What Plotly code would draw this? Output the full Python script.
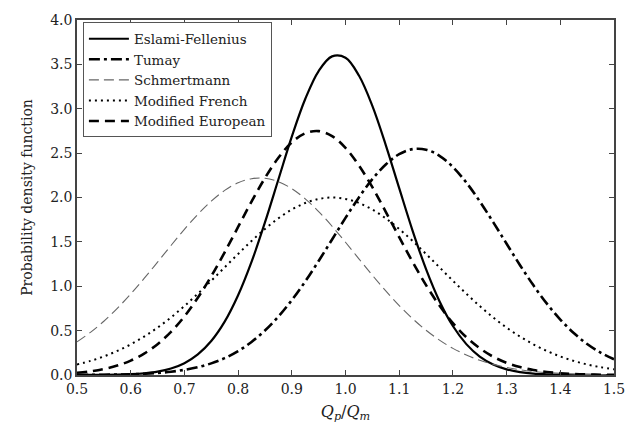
import plotly.graph_objects as go

# x grid (Qp/Qm), step 0.025
x_vals = [0.500, 0.525, 0.550, 0.575, 0.600, 0.625, 0.650, 0.675, 0.700, 0.725,
          0.750, 0.775, 0.800, 0.825, 0.850, 0.875, 0.900, 0.925, 0.950, 0.975,
          1.000, 1.025, 1.050, 1.075, 1.100, 1.125, 1.150, 1.175, 1.200, 1.225,
          1.250, 1.275, 1.300, 1.325, 1.350, 1.375, 1.400, 1.425, 1.450, 1.475, 1.500]

eslami_fellenius = [0.000, 0.001, 0.002, 0.004, 0.009, 0.019, 0.038, 0.073, 0.133, 0.232,
                    0.383, 0.601, 0.898, 1.274, 1.719, 2.203, 2.686, 3.110, 3.425, 3.590,
                    3.575, 3.374, 3.032, 2.591, 2.105, 1.625, 1.193, 0.832, 0.552, 0.348,
                    0.208, 0.119, 0.064, 0.033, 0.016, 0.008, 0.003, 0.002, 0.001, 0.000, 0.000]
tumay = [0.001, 0.002, 0.003, 0.005, 0.008, 0.014, 0.023, 0.037, 0.058, 0.088,
         0.131, 0.190, 0.269, 0.372, 0.501, 0.658, 0.844, 1.054, 1.285, 1.527,
         1.770, 2.001, 2.207, 2.372, 2.488, 2.545, 2.539, 2.470, 2.344, 2.168,
         1.957, 1.722, 1.479, 1.237, 1.010, 0.804, 0.625, 0.473, 0.349, 0.252, 0.177]
schmertmann = [0.373, 0.480, 0.606, 0.751, 0.913, 1.088, 1.272, 1.459, 1.641, 1.810,
               1.959, 2.080, 2.166, 2.212, 2.217, 2.178, 2.100, 1.985, 1.842, 1.676,
               1.496, 1.309, 1.124, 0.947, 0.782, 0.634, 0.504, 0.393, 0.300, 0.226,
               0.166, 0.120, 0.085, 0.059, 0.040, 0.027, 0.018, 0.011, 0.007, 0.004, 0.003]
modified_french = [0.119, 0.159, 0.209, 0.271, 0.345, 0.433, 0.534, 0.649, 0.777, 0.916,
                   1.062, 1.213, 1.364, 1.510, 1.645, 1.765, 1.864, 1.938, 1.984, 2.000,
                   1.984, 1.938, 1.864, 1.765, 1.645, 1.510, 1.364, 1.213, 1.062, 0.916,
                   0.777, 0.649, 0.534, 0.433, 0.345, 0.271, 0.209, 0.159, 0.119, 0.088, 0.064]
modified_european = [0.025, 0.041, 0.067, 0.106, 0.162, 0.241, 0.347, 0.486, 0.659, 0.870,
                     1.113, 1.383, 1.668, 1.953, 2.219, 2.448, 2.621, 2.724, 2.748, 2.692,
                     2.559, 2.361, 2.116, 1.839, 1.553, 1.273, 1.012, 0.782, 0.585, 0.426,
                     0.301, 0.206, 0.137, 0.089, 0.056, 0.034, 0.020, 0.011, 0.006, 0.003, 0.002]

series_names = ["Eslami-Fellenius", "Tumay", "Schmertmann", "Modified French", "Modified European"]
series_values = [eslami_fellenius, tumay, schmertmann, modified_french, modified_european]

x_ticks = [0.5, 0.6, 0.7, 0.8, 0.9, 1.0, 1.1, 1.2, 1.3, 1.4, 1.5]
y_ticks = [0.0, 0.5, 1.0, 1.5, 2.0, 2.5, 3.0, 3.5, 4.0]

styles = [
    dict(color="black", width=2.2, dash="solid"),
    dict(color="black", width=2.6, dash="11px,4px,3px,4px"),
    dict(color="#666666", width=1.1, dash="10px,5px"),
    dict(color="black", width=2.0, dash="2px,4px"),
    dict(color="black", width=2.6, dash="10px,6px"),
]

fig = go.Figure()
for name, vals, st in zip(series_names, series_values, styles):
    fig.add_trace(go.Scatter(
        x=x_vals, y=vals, mode="lines", name=name,
        line=dict(shape="spline", smoothing=1.0, **st),
    ))

font_family = "DejaVu Serif"
axis_common = dict(
    showline=True, linecolor="#444444", linewidth=1.5, mirror="ticks",
    ticks="inside", ticklen=5, tickcolor="#444444", tickwidth=1,
    showgrid=False, zeroline=False,
    tickfont=dict(family=font_family, size=14, color="#222222"),
)

fig.update_layout(
    width=637, height=430,
    margin=dict(l=77, r=18, t=17, b=55),
    paper_bgcolor="white", plot_bgcolor="white",
    font=dict(family=font_family, color="#222222"),
    xaxis=dict(range=[0.5, 1.5], tickvals=x_ticks, tickformat=".1f",
               title=dict(text="<i>Q</i><sub><i>p</i></sub>/<i>Q</i><sub><i>m</i></sub>",
                          font=dict(family=font_family, size=16), standoff=10),
               **axis_common),
    yaxis=dict(range=[0, 4.0], tickvals=y_ticks, tickformat=".1f",
               title=dict(text="Probability density function",
                          font=dict(family=font_family, size=14), standoff=14),
               **axis_common),
    legend=dict(x=0.011, y=0.993, xanchor="left", yanchor="top",
                bgcolor="white", bordercolor="#555555", borderwidth=1,
                font=dict(family=font_family, size=13.5, color="#222222"),
                tracegroupgap=0, itemwidth=40),
    showlegend=True,
)

fig.write_html("out.html")
